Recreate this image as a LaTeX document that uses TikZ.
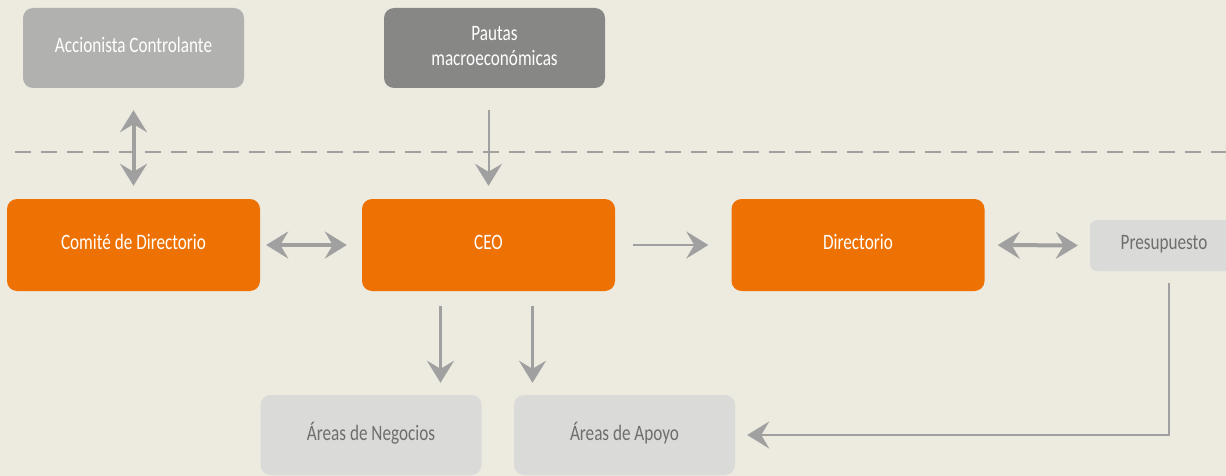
\documentclass[tikz,border=0pt]{standalone}
\usepackage{fontspec}
\setmainfont{Carlito}
\usetikzlibrary{arrows.meta}
\definecolor{fondo}{HTML}{EDEAE0}
\definecolor{naranja}{HTML}{EE7203}
\definecolor{grisaccion}{HTML}{B1B1B0}
\definecolor{grispautas}{HTML}{878786}
\definecolor{grisclaro}{HTML}{DADAD8}
\definecolor{textogris}{HTML}{6E6E6E}
\definecolor{flechagris}{HTML}{A0A0A0}
% narrow, tall lettering as in the chart
\newcommand{\rotulo}[1]{\raisebox{-2pt}{\scalebox{0.78}[1]{\begin{tabular}{@{}c@{}}#1\end{tabular}}}}
\tikzset{
  box/.style={rectangle, rounded corners=10pt, minimum width=253pt, minimum height=92pt,
    align=center, text=white, font=\fontsize{22}{24}\selectfont},
  orangebox/.style={box, fill=naranja},
  topbox/.style={box, minimum width=221pt, minimum height=80pt},
  palebox/.style={topbox, fill=grisclaro, text=textogris},
  punta/.tip={Stealth[length=22pt,width=27pt,inset=8pt]},
  flecha/.style={draw=flechagris, line width=2.5pt, -punta},
  dflecha/.style={flecha, line width=4pt, punta-punta},
}
\begin{document}
\begin{tikzpicture}[x=1pt,y=-1pt]
  \useasboundingbox[fill=fondo] (0,0) rectangle (1226,476);
  % upper boxes
  \node[topbox, fill=grisaccion] (accionista) at (133.5,48) {\rotulo{Accionista Controlante}};
  \node[topbox, fill=grispautas] (pautas) at (494.5,48) {\rotulo{Pautas\\[1pt]macroeconómicas}};
  \draw[flechagris, line width=2.5pt, dash pattern=on 16pt off 10pt] (15,152) -- (1226,152);
  % main row
  \node[orangebox] (comite) at (133.5,245) {\rotulo{Comité de Directorio}};
  \node[orangebox] (ceo) at (488.5,245) {\rotulo{CEO}};
  \node[orangebox] (directorio) at (858,245) {\rotulo{Directorio}};
  \begin{scope}
    \clip (0,0) rectangle (1226,476);
    \node[palebox, rounded corners=7pt, minimum width=158pt, minimum height=51pt] (presupuesto) at (1169,245.5) {};
  \end{scope}
  \node[text=textogris, font=\fontsize{22}{24}\selectfont] at (1164,245) {\rotulo{Presupuesto}};
  % lower row
  \node[palebox] (negocios) at (371,435) {\rotulo{Áreas de Negocios}};
  \node[palebox] (apoyo) at (624.5,435) {\rotulo{Áreas de Apoyo}};
  % arrows
  \draw[dflecha, shorten <=22pt, shorten >=13pt] (accionista.south) -- (comite.north);
  \draw[flecha, line width=2pt, shorten <=22pt, shorten >=13pt] (ceo.north |- pautas.south) -- (ceo.north);
  \draw[dflecha, shorten <=6pt, shorten >=15pt] (comite.east) -- (ceo.west);
  \draw[flecha, shorten <=18pt, shorten >=23pt] (ceo.east) -- (directorio.west);
  \draw[dflecha, shorten <=13pt, shorten >=12pt] (directorio.east) -- (presupuesto.west);
  \foreach \dx/\dest in {-48/negocios, 44/apoyo}
    \draw[flecha, shorten <=15pt, shorten >=12pt] ([xshift=\dx pt]ceo.south) -- ([xshift=\dx pt]ceo.south |- \dest.north);
  \draw[flecha, shorten <=12pt, shorten >=12pt] (presupuesto.south) |- (apoyo.east);
\end{tikzpicture}
\end{document}
